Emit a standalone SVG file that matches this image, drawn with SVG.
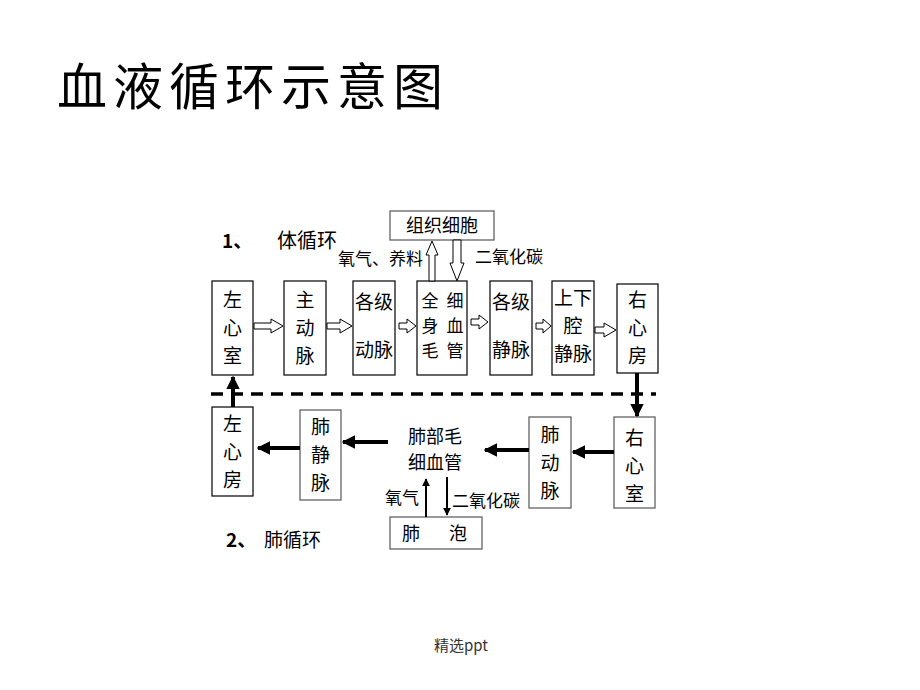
<svg xmlns="http://www.w3.org/2000/svg" width="920" height="690" viewBox="0 0 920 690">
<style>
.cjk{font-family:"Noto Sans CJK SC","Noto Sans CJK TC",sans-serif;fill:#000}
.bx{font-size:19px}
.bs{font-size:17px}
.box{fill:none;stroke:#000;stroke-width:1.2}
.gbox{fill:none;stroke:#555;stroke-width:1.2}
.hollow{fill:#fff;stroke:#000;stroke-width:1}
.thick{stroke:#000;stroke-width:4;fill:none}
.thin{stroke:#000;stroke-width:2;fill:none}
</style>
<defs>
<marker id="ah" viewBox="0 0 10 10" refX="9" refY="5" markerWidth="3.4" markerHeight="3.4" orient="auto" markerUnits="strokeWidth"><path d="M0,0 L10,5 L0,10 z" fill="#000"/></marker>
<marker id="ahs" viewBox="0 0 10 10" refX="9" refY="5" markerWidth="4" markerHeight="5" orient="auto" markerUnits="strokeWidth"><path d="M0,0 L10,5 L0,10 z" fill="#000"/></marker>
</defs>
<rect width="920" height="690" fill="#fff"/>

<text class="cjk" x="57" y="105" font-size="50" font-weight="400" textLength="386" lengthAdjust="spacing">血液循环示意图</text>

<g id="label1"><text class="cjk" x="222" y="248" font-size="19" font-weight="700">1、</text><text class="cjk" x="277" y="248" font-size="20">体循环</text></g>
<g id="label2"><text class="cjk" x="226" y="547" font-size="19" font-weight="700">2、</text><text class="cjk" x="264" y="547" font-size="19">肺循环</text></g>

<g id="n_zuxinshi"><rect class="box" x="212" y="281" width="41" height="94"/>
<text class="cjk bx" x="232.5" y="307" text-anchor="middle">左</text><text class="cjk bx" x="232.5" y="335" text-anchor="middle">心</text><text class="cjk bx" x="232.5" y="363" text-anchor="middle">室</text></g>
<g id="n_zhudongmai"><rect class="box" x="284" y="281" width="42" height="94"/>
<text class="cjk bx" x="305" y="307" text-anchor="middle">主</text><text class="cjk bx" x="305" y="335" text-anchor="middle">动</text><text class="cjk bx" x="305" y="363" text-anchor="middle">脉</text></g>
<g id="n_gejidongmai"><rect class="box" x="353" y="281" width="42" height="94"/>
<text class="cjk bx" x="374" y="309" text-anchor="middle">各级</text><text class="cjk bx" x="374" y="357" text-anchor="middle">动脉</text></g>
<g id="n_maoxi"><rect class="box" x="417" y="281" width="50" height="94"/>
<text class="cjk bs" x="430" y="307" text-anchor="middle">全</text><text class="cjk bs" x="455" y="307" text-anchor="middle">细</text>
<text class="cjk bs" x="430" y="332" text-anchor="middle">身</text><text class="cjk bs" x="455" y="332" text-anchor="middle">血</text>
<text class="cjk bs" x="430" y="357" text-anchor="middle">毛</text><text class="cjk bs" x="455" y="357" text-anchor="middle">管</text></g>
<g id="n_gejijingmai"><rect class="box" x="490" y="281" width="42" height="94"/>
<text class="cjk bx" x="511" y="309" text-anchor="middle">各级</text><text class="cjk bx" x="511" y="357" text-anchor="middle">静脉</text></g>
<g id="n_qiangjingmai"><rect class="box" x="552" y="281" width="42" height="94"/>
<text class="cjk bx" x="573" y="305" text-anchor="middle">上下</text><text class="cjk bx" x="573" y="333" text-anchor="middle">腔</text><text class="cjk bx" x="573" y="361" text-anchor="middle">静脉</text></g>
<g id="n_youxinfang"><rect class="box" x="617" y="284" width="41" height="89"/>
<text class="cjk bx" x="637.5" y="307" text-anchor="middle">右</text><text class="cjk bx" x="637.5" y="335" text-anchor="middle">心</text><text class="cjk bx" x="637.5" y="363" text-anchor="middle">房</text></g>
<g id="n_zuzhi"><rect class="gbox" x="390" y="211" width="104" height="29"/>
<text class="cjk" x="442" y="232" font-size="18" text-anchor="middle">组织细胞</text></g>

<g id="n_zuxinfang"><rect class="box" x="212" y="407" width="41" height="89"/>
<text class="cjk bx" x="232.5" y="431" text-anchor="middle">左</text><text class="cjk bx" x="232.5" y="459" text-anchor="middle">心</text><text class="cjk bx" x="232.5" y="487" text-anchor="middle">房</text></g>
<g id="n_feijingmai"><rect class="gbox" x="300" y="410" width="41" height="90"/>
<text class="cjk bx" x="320.5" y="434" text-anchor="middle">肺</text><text class="cjk bx" x="320.5" y="462" text-anchor="middle">静</text><text class="cjk bx" x="320.5" y="490" text-anchor="middle">脉</text></g>
<g id="n_feimaoxi"><text class="cjk" x="435" y="443" font-size="18" text-anchor="middle">肺部毛</text><text class="cjk" x="435" y="469" font-size="18" text-anchor="middle">细血管</text></g>
<g id="n_feidongmai"><rect class="gbox" x="529" y="417" width="42" height="91"/>
<text class="cjk bx" x="550" y="442" text-anchor="middle">肺</text><text class="cjk bx" x="550" y="470" text-anchor="middle">动</text><text class="cjk bx" x="550" y="498" text-anchor="middle">脉</text></g>
<g id="n_youxinshi"><rect class="gbox" x="614" y="417" width="41" height="91"/>
<text class="cjk bx" x="634.5" y="445" text-anchor="middle">右</text><text class="cjk bx" x="634.5" y="473" text-anchor="middle">心</text><text class="cjk bx" x="634.5" y="501" text-anchor="middle">室</text></g>
<g id="n_feipao"><rect class="gbox" x="390" y="517" width="92" height="32"/>
<text class="cjk" x="411" y="540" font-size="18" text-anchor="middle">肺</text><text class="cjk" x="458" y="540" font-size="18" text-anchor="middle">泡</text></g>

<g id="connectors">
<polygon class="hollow" points="254,323 271,323 271,319 283,326 271,333 271,329 254,329"/>
<polygon class="hollow" points="327,323 340,323 340,319 352,326 340,333 340,329 327,329"/>
<polygon class="hollow" points="399,323 407,323 407,319 416,326 407,333 407,329 399,329"/>
<polygon class="hollow" points="471,319 479,319 479,315 488,322 479,329 479,325 471,325"/>
<polygon class="hollow" points="536,323 543,323 543,319 551,326 543,333 543,329 536,329"/>
<polygon class="hollow" points="595,327 604,327 604,323 616,330 604,337 604,333 595,333"/>
<polygon class="hollow" points="429,281 429,255 426,255 432,241 438,255 435,255 435,281"/>
<polygon class="hollow" points="453,240 453,263 450,263 457,281 464,263 461,263 461,240"/>
<line x1="211" y1="394" x2="656" y2="394" stroke="#000" stroke-width="3.5" stroke-dasharray="12,8"/>
<line class="thick" x1="637" y1="373" x2="637" y2="416" marker-end="url(#ah)"/>
<line class="thick" x1="233" y1="407" x2="233" y2="377" marker-end="url(#ah)"/>
<line class="thick" x1="614" y1="452" x2="573" y2="452" marker-end="url(#ah)"/>
<line class="thick" x1="529" y1="450" x2="485" y2="450" marker-end="url(#ah)"/>
<line class="thick" x1="388" y1="442" x2="343" y2="442" marker-end="url(#ah)"/>
<line class="thick" x1="300" y1="448" x2="258" y2="448" marker-end="url(#ah)"/>
<line class="thin" x1="426" y1="517" x2="426" y2="479" marker-end="url(#ahs)"/>
<line class="thin" x1="447" y1="477" x2="447" y2="515" marker-end="url(#ahs)"/>
</g>

<text class="cjk" x="338" y="265" font-size="17">氧气、养料</text>
<text class="cjk" x="475" y="263" font-size="17">二氧化碳</text>
<text class="cjk" x="385" y="504" font-size="17">氧气</text>
<text class="cjk" x="452" y="507" font-size="17">二氧化碳</text>

<text x="461" y="651" font-family="Noto Sans CJK SC,sans-serif" font-size="15" fill="#333" text-anchor="middle">精选ppt</text>
</svg>
